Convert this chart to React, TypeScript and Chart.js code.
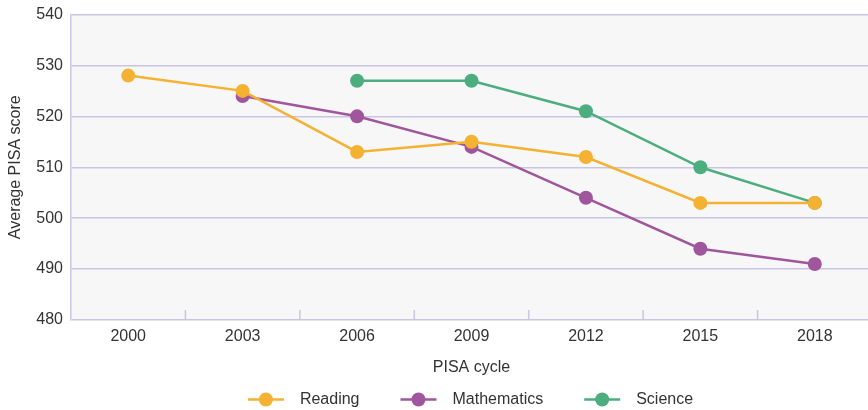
import React, { useEffect, useRef } from "react";
import { Chart, registerables } from "chart.js";

Chart.register(...registerables);

const cycles = ["2000", "2003", "2006", "2009", "2012", "2015", "2018"];
const reading = [528, 525, 513, 515, 512, 503, 503];
const mathematics = [null, 524, 520, 514, 504, 494, 491];
const science = [null, null, 527, 527, 521, 510, 503];
const seriesNames = ["Reading", "Mathematics", "Science"];
const seriesColors = ["#f4b132", "#a0569c", "#4cae7e"];
const yMin = 480;
const yMax = 540;
const yStep = 10;
const xTitle = "PISA cycle";
const yTitle = "Average PISA score";

const FONT = "'Liberation Sans', Arial, Helvetica, sans-serif";
const TEXT = "#333333";
const GRID = "#c9c6e3";

const bgPlugin = {
  id: "plotBg",
  beforeDraw(chart: any) {
    const { ctx, chartArea } = chart;
    ctx.save();
    ctx.fillStyle = "#f7f7f8";
    ctx.fillRect(chartArea.left, chartArea.top, chartArea.right - chartArea.left, chartArea.bottom - chartArea.top);
    ctx.restore();
  },
};

const xTickPlugin = {
  id: "xInnerTicks",
  beforeDatasetsDraw(chart: any) {
    const { ctx, chartArea } = chart;
    const xs = chart.scales.x;
    const n = xs.ticks.length;
    ctx.save();
    ctx.strokeStyle = GRID;
    ctx.lineWidth = 1.5;
    for (let i = 0; i < n; i++) {
      const a = xs.getPixelForTick(i);
      const b = i + 1 < n ? xs.getPixelForTick(i + 1) : a + (a - xs.getPixelForTick(i - 1));
      const x = (a + b) / 2;
      ctx.beginPath();
      ctx.moveTo(x, chartArea.bottom);
      ctx.lineTo(x, chartArea.bottom - 10);
      ctx.stroke();
    }
    ctx.restore();
  },
};

const legendPlugin = {
  id: "lineLegend",
  afterDraw(chart: any) {
    const { ctx, chartArea } = chart;
    const lineLen = 36;
    const gapText = 16;
    const gapItem = 41;
    const y = 399.5;
    ctx.save();
    ctx.font = `16px ${FONT}`;
    const widths = chart.data.datasets.map((d: any) => ctx.measureText(d.label).width);
    let total = 0;
    widths.forEach((w: number, i: number) => {
      total += lineLen + gapText + w + (i < widths.length - 1 ? gapItem : 0);
    });
    let x = (chartArea.left + chartArea.right) / 2 - 1 - total / 2;
    chart.data.datasets.forEach((d: any, i: number) => {
      ctx.strokeStyle = d.borderColor;
      ctx.lineWidth = 2.5;
      ctx.beginPath();
      ctx.moveTo(x, y);
      ctx.lineTo(x + lineLen, y);
      ctx.stroke();
      ctx.fillStyle = d.borderColor;
      ctx.beginPath();
      ctx.arc(x + lineLen / 2, y, 7, 0, Math.PI * 2);
      ctx.fill();
      ctx.fillStyle = TEXT;
      ctx.textBaseline = "middle";
      ctx.textAlign = "left";
      ctx.fillText(d.label, x + lineLen + gapText, y);
      x += lineLen + gapText + widths[i] + gapItem;
    });
    ctx.restore();
  },
};

export default function App() {
  const ref = useRef<HTMLCanvasElement | null>(null);

  useEffect(() => {
    if (!ref.current) return;
    const seriesData = [reading, mathematics, science];
    const chart = new Chart(ref.current, {
      type: "line",
      data: {
        labels: cycles,
        datasets: seriesData.map((d, i) => ({
          label: seriesNames[i],
          data: d,
          borderColor: seriesColors[i],
          backgroundColor: seriesColors[i],
          pointBackgroundColor: seriesColors[i],
          pointBorderWidth: 0,
          pointRadius: 7,
          borderWidth: 2.5,
          tension: 0,
          fill: false,
        })),
      },
      options: {
        responsive: false,
        animation: false,
        devicePixelRatio: 1,
        layout: { padding: { left: 0, top: 14.5, right: 1, bottom: 30 } },
        plugins: {
          legend: { display: false },
          tooltip: { enabled: false },
        },
        scales: {
          x: {
            offset: true,
            grid: { display: false, drawTicks: false },
            border: { display: false },
            ticks: { color: TEXT, font: { family: FONT, size: 16 }, padding: 7, maxRotation: 0 },
            title: {
              display: true,
              text: xTitle,
              color: TEXT,
              font: { family: FONT, size: 16 },
              padding: { top: 4, bottom: 3 },
            },
            afterFit(scale: any) {
              scale.height = 60;
              scale.paddingLeft = 0;
              scale.paddingRight = 0;
            },
          },
          y: {
            min: yMin,
            max: yMax,
            grid: { color: GRID, lineWidth: 1.5, drawTicks: false },
            border: { display: true, color: GRID, width: 1.5 },
            ticks: { stepSize: yStep, color: TEXT, font: { family: FONT, size: 16 }, padding: 8 },
            title: {
              display: true,
              text: yTitle,
              color: TEXT,
              font: { family: FONT, size: 16 },
              padding: { top: 6, bottom: 0 },
            },
            afterFit(scale: any) {
              scale.width = 71;
              scale.paddingTop = 0;
              scale.paddingBottom = 0;
            },
          },
        },
      } as any,
      plugins: [bgPlugin, xTickPlugin, legendPlugin],
    });
    return () => chart.destroy();
  }, []);

  return (
    <div
      style={{
        position: "absolute",
        left: 0,
        top: 0,
        width: 868,
        height: 410,
        overflow: "hidden",
        background: "#ffffff",
      }}
    >
      <canvas ref={ref} width={879} height={410} style={{ display: "block", width: 879, height: 410 }} />
    </div>
  );
}
